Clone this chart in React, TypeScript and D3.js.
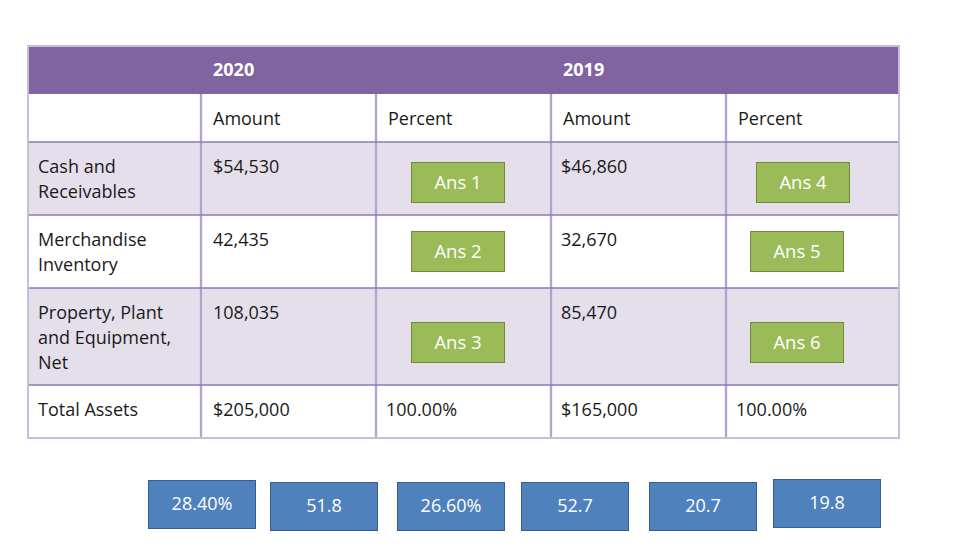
import React from "react";
import * as d3 from "d3";

const years = ["2020", "2019"];
const subHeaders = ["", "Amount", "Percent", "Amount", "Percent"];
const rowLabels = [["Cash and", "Receivables"], ["Merchandise", "Inventory"], ["Property, Plant", "and Equipment,", "Net"]];
const amounts2020 = ["$54,530", "42,435", "108,035"];
const amounts2019 = ["$46,860", "32,670", "85,470"];
const answers2020 = ["Ans 1", "Ans 2", "Ans 3"];
const answers2019 = ["Ans 4", "Ans 5", "Ans 6"];
const totalRow = ["Total Assets", "$205,000", "100.00%", "$165,000", "100.00%"];
const options = ["28.40%", "51.8", "26.60%", "52.7", "20.7", "19.8"];

const colEdges = [28, 201, 376, 551, 726, 899];
const rowEdges = [46, 94, 142, 215, 288, 385, 438];
const ansBoxes2020 = [[411, 162], [411, 231], [411, 322]];
const ansBoxes2019 = [[756, 162], [750, 231], [750, 322]];
const optBoxes = [[148, 480], [270, 482], [397, 482], [521, 482], [649, 482], [773, 479]];

const FONT = "'Open Sans', 'Noto Sans', sans-serif";

export default function App() {
  const W = 974, H = 548;
  const x = d3.scaleLinear().domain([0, 1]).range([0, 1]);
  const fs = 18;
  const textColor = "#1a1a1a";
  const bodyRows = rowLabels.map((lab, i) => ({
    lab, a20: amounts2020[i], a19: amounts2019[i], n20: answers2020[i], n19: answers2019[i],
    top: rowEdges[i + 2], bottom: rowEdges[i + 3],
  }));
  return (
    <svg width={W} height={H} style={{ position: "absolute", left: 0, top: 0, background: "#fff" }} fontFamily={FONT}>
      <rect x={colEdges[0]} y={rowEdges[0]} width={colEdges[5] - colEdges[0]} height={rowEdges[1] - rowEdges[0]} fill="#8064A2" />
      {years.map((y, i) => (
        <text key={y} x={x(colEdges[1 + i * 2] + 12)} y={rowEdges[0] + 30} fill="#fff" fontWeight={700} fontSize={fs}>{y}</text>
      ))}
      {bodyRows.map((r, i) => (
        <rect key={i} x={colEdges[0]} y={r.top} width={colEdges[5] - colEdges[0]} height={r.bottom - r.top} fill={i % 2 === 0 ? "#E5DFEC" : "#fff"} />
      ))}
      {subHeaders.map((s, i) => (
        <text key={i} x={colEdges[i] + 12} y={rowEdges[1] + 31} fill={textColor} fontSize={fs}>{s}</text>
      ))}
      {bodyRows.map((r, i) => (
        <g key={i}>
          {r.lab.map((l, j) => (
            <text key={j} x={colEdges[0] + 10} y={r.top + 31 + j * 25} fill={textColor} fontSize={fs}>{l}</text>
          ))}
          <text x={colEdges[1] + 12} y={r.top + 31} fill={textColor} fontSize={fs}>{r.a20}</text>
          <text x={colEdges[3] + 10} y={r.top + 31} fill={textColor} fontSize={fs}>{r.a19}</text>
        </g>
      ))}
      {totalRow.map((t, i) => (
        <text key={i} x={colEdges[i] + (i === 1 ? 12 : 10)} y={rowEdges[5] + 31} fill={textColor} fontSize={fs}>{t}</text>
      ))}
      {colEdges.slice(1, 5).map((c, i) => (
        <g key={i}>
          <line x1={c} x2={c} y1={rowEdges[1]} y2={rowEdges[6]} stroke="#C9BEDC" strokeWidth={2.5} />
          <line x1={c} x2={c} y1={rowEdges[1]} y2={rowEdges[6]} stroke="#9A86C2" strokeWidth={1} />
        </g>
      ))}
      {rowEdges.slice(2, 6).map((r, i) => (
        <line key={i} x1={colEdges[0]} x2={colEdges[5]} y1={r} y2={r} stroke="#8C78B4" strokeWidth={1.5} />
      ))}
      <rect x={colEdges[0]} y={rowEdges[0]} width={colEdges[5] - colEdges[0]} height={rowEdges[6] - rowEdges[0]} fill="none" stroke="#C8BEDC" strokeWidth={2} />
      {[...ansBoxes2020.map((b, i) => ({ b, t: answers2020[i] })), ...ansBoxes2019.map((b, i) => ({ b, t: answers2019[i] }))].map(({ b, t }, i) => (
        <g key={i}>
          <rect x={b[0] + 0.5} y={b[1] + 0.5} width={93} height={40} fill="#9BBB59" stroke="#71893F" strokeWidth={1} />
          <text x={b[0] + 47} y={b[1] + 26.5} textAnchor="middle" fill="#fff" fontSize={18.5}>{t}</text>
        </g>
      ))}
      {optBoxes.map((b, i) => (
        <g key={i}>
          <rect x={b[0] + 0.5} y={b[1] + 0.5} width={107} height={48} fill="#4F81BD" stroke="#385D8A" strokeWidth={1} />
          <text x={b[0] + 54} y={b[1] + 30} textAnchor="middle" fill="#fff" fontSize={fs}>{options[i]}</text>
        </g>
      ))}
    </svg>
  );
}
